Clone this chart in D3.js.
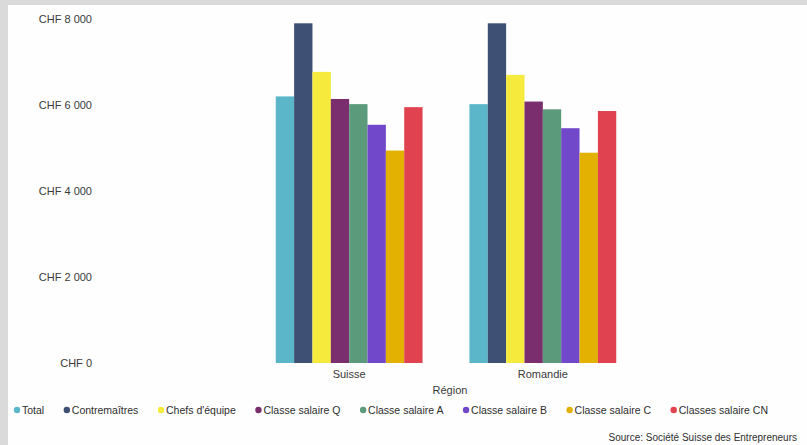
<!DOCTYPE html>
<html><head><meta charset="utf-8">
<script src="https://cdn.jsdelivr.net/npm/d3@7"></script>
<style>body{margin:0;background:#dadada;}svg{display:block;font-family:"Liberation Sans",Arial,sans-serif;}</style>
</head><body><svg id="c" width="807" height="445"></svg>
<script>
const regions = ["Suisse", "Romandie"];
const seriesNames = ["Total", "Contremaîtres", "Chefs d'équipe", "Classe salaire Q", "Classe salaire A", "Classe salaire B", "Classe salaire C", "Classes salaire CN"];
const suisseValues = [6200, 7900, 6770, 6140, 6020, 5540, 4940, 5950];
const romandieValues = [6020, 7900, 6700, 6080, 5900, 5460, 4890, 5860];
const seriesColors = ["#5cb6c9", "#3e5174", "#f6ea3c", "#7b2e6d", "#5b9a7b", "#7048c9", "#e2b102", "#e0424f"];
const yTicks = [0, 2000, 4000, 6000, 8000];
const yTickLabels = ["CHF 0", "CHF 2 000", "CHF 4 000", "CHF 6 000", "CHF 8 000"];
const xTitle = "Région";
const sourceText = "Source: Société Suisse des Entrepreneurs";

const valuesByRegion = [suisseValues, romandieValues];
const svg = d3.select("#c");
svg.append("rect").attr("x", 8).attr("y", 5).attr("width", 799).attr("height", 440).attr("fill", "#fefefe");

const y = d3.scaleLinear().domain([0, 8000]).range([363, 19]);
const x0 = d3.scaleBand().domain(regions).range([103, 789]).paddingInner(0.242).paddingOuter(0.892);
const x1 = d3.scaleBand().domain(seriesNames).range([0, x0.bandwidth()]).padding(0);

// y axis labels
const yAxis = d3.axisLeft(y).tickValues(yTicks).tickFormat((d, i) => yTickLabels[i]).tickSize(0).tickPadding(0);
const ya = svg.append("g").attr("transform", "translate(92,0)").call(yAxis);
ya.select(".domain").remove();
ya.selectAll("text").attr("font-size", 11).attr("fill", "#3a3a3a").attr("font-family", "'Liberation Sans',Arial,sans-serif");

// bars
const groups = svg.append("g").selectAll("g").data(regions).join("g")
  .attr("transform", d => `translate(${x0(d)},0)`);
groups.selectAll("rect").data((d, i) => valuesByRegion[i].map((v, j) => ({name: seriesNames[j], v, c: seriesColors[j]})))
  .join("rect")
  .attr("x", d => x1(d.name)).attr("width", x1.bandwidth())
  .attr("y", d => y(d.v)).attr("height", d => y(0) - y(d.v))
  .attr("fill", d => d.c);

// x axis labels
const xAxis = d3.axisBottom(x0).tickSize(0).tickPadding(0);
const xa = svg.append("g").attr("transform", "translate(0,370)").call(xAxis);
xa.select(".domain").remove();
xa.selectAll("text").attr("font-size", 11).attr("fill", "#3a3a3a").attr("font-family", "'Liberation Sans',Arial,sans-serif");

svg.append("text").attr("x", 450).attr("y", 394).attr("text-anchor", "middle")
  .attr("font-size", 11).attr("fill", "#3a3a3a").text(xTitle);

// legend
const lg = svg.append("g").attr("transform", "translate(0,410)");
const items = lg.selectAll("g").data(seriesNames).join("g");
items.append("circle").attr("r", 3.2).attr("cx", 0).attr("cy", 0).attr("fill", (d, i) => seriesColors[i]);
items.append("text").attr("x", 5).attr("y", 3.8).attr("font-size", 10.5).attr("fill", "#2e2e2e").text(d => d);
const widths = [];
items.each(function () { widths.push(5 + d3.select(this).select("text").node().getComputedTextLength()); });
const startX = 17, endX = 768;
const totalW = d3.sum(widths);
const gap = (endX - startX - totalW) / (seriesNames.length - 1);
let cx = startX;
items.attr("transform", (d, i) => { const t = `translate(${cx},0)`; cx += widths[i] + gap; return t; });

svg.append("text").attr("x", 797).attr("y", 441).attr("text-anchor", "end")
  .attr("font-size", 10).attr("fill", "#2e2e2e").text(sourceText);
</script></body></html>
